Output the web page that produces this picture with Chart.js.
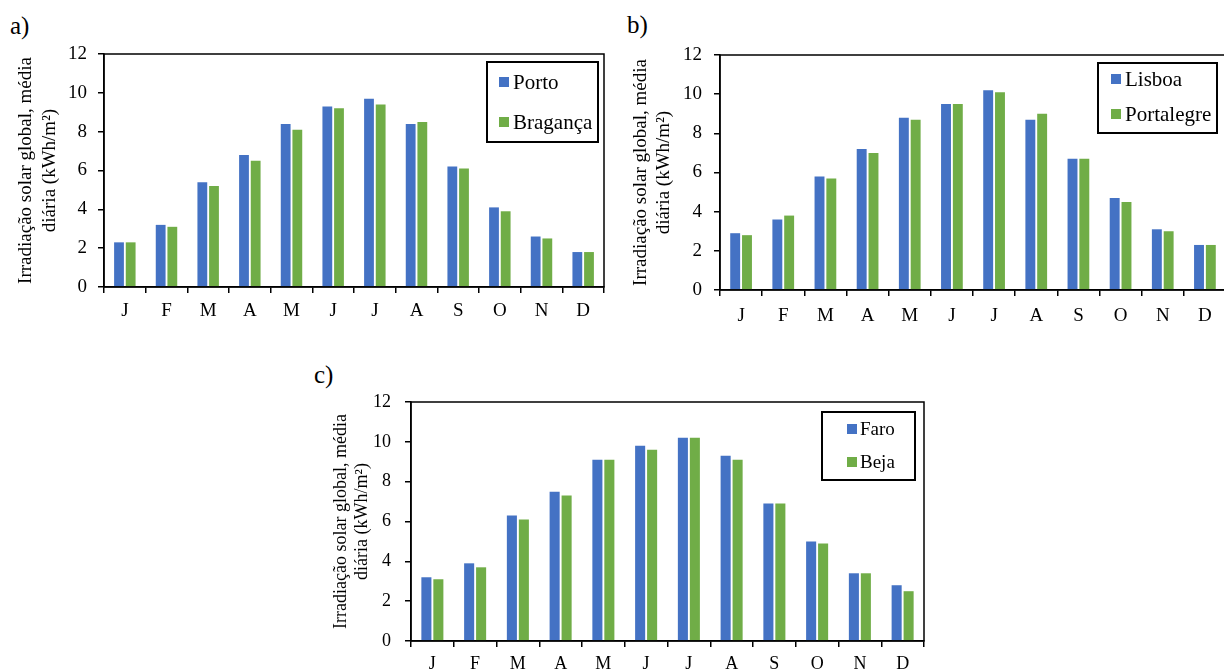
<!DOCTYPE html>
<html>
<head>
<meta charset="utf-8">
<script src="https://cdn.jsdelivr.net/npm/chart.js@4.4.1/dist/chart.umd.min.js"></script>
<style>
  body { margin: 0; width: 1224px; height: 670px; overflow: hidden; background: #fff; position: relative; font-family: 'Liberation Serif', serif; }
  canvas { position: absolute; }
  .tag { position: absolute; font-size: 25px; color: #000; line-height: 1; }
</style>
</head>
<body>
<div class="tag" style="left:10px;top:13px">a)</div>
<div class="tag" style="left:627px;top:12px">b)</div>
<div class="tag" style="left:314px;top:362px">c)</div>
<canvas id="chartA" width="612" height="330" style="left:0;top:0"></canvas>
<canvas id="chartB" width="620" height="330" style="left:612px;top:0"></canvas>
<canvas id="chartC" width="640" height="330" style="left:300px;top:340px"></canvas>
<script>
// months and y ticks
const months = ['J', 'F', 'M', 'A', 'M', 'J', 'J', 'A', 'S', 'O', 'N', 'D'];
const yTicks = [0, 2, 4, 6, 8, 10, 12];
const yTitle = ['Irradiação solar global, média', 'diária (kWh/m²)'];

// a) north
const porto    = [2.3, 3.2, 5.4, 6.8, 8.4, 9.3, 9.7, 8.4, 6.2, 4.1, 2.6, 1.8];
const braganca = [2.3, 3.1, 5.2, 6.5, 8.1, 9.2, 9.4, 8.5, 6.1, 3.9, 2.5, 1.8];
// b) centre
const lisboa     = [2.9, 3.6, 5.8, 7.2, 8.8, 9.5, 10.2, 8.7, 6.7, 4.7, 3.1, 2.3];
const portalegre = [2.8, 3.8, 5.7, 7.0, 8.7, 9.5, 10.1, 9.0, 6.7, 4.5, 3.0, 2.3];
// c) south
const faro = [3.2, 3.9, 6.3, 7.5, 9.1, 9.8, 10.2, 9.3, 6.9, 5.0, 3.4, 2.8];
const beja = [3.1, 3.7, 6.1, 7.3, 9.1, 9.6, 10.2, 9.1, 6.9, 4.9, 3.4, 2.5];

const BLUE = '#4472C4';
const GREEN = '#70AD47';
const FONT = 'Liberation Serif';

// frame round the plot + boxed legend inside it
const frameAndLegend = {
    id: 'frameAndLegend',
    afterDraw(chart, args, opts) {
        const { ctx, chartArea: a } = chart;
        ctx.save();
        ctx.strokeStyle = '#000';
        ctx.lineWidth = 1.5;
        ctx.strokeRect(a.left, a.top, a.right - a.left, a.bottom - a.top);

        const b = opts.box;
        ctx.fillStyle = '#fff';
        ctx.fillRect(b.x, b.y, b.w, b.h);
        ctx.lineWidth = 2;
        ctx.strokeRect(b.x, b.y, b.w, b.h);
        ctx.font = opts.fontSize + 'px "' + FONT + '"';
        ctx.textBaseline = 'middle';
        chart.data.datasets.forEach((ds, i) => {
            const y = b.rows[i];
            ctx.fillStyle = ds.backgroundColor;
            ctx.fillRect(b.markX, y - 5, 10, 10);
            ctx.fillStyle = '#000';
            ctx.fillText(ds.label, b.textX, y + 1);
        });
        ctx.restore();
    }
};

function makeChart(id, s1, n1, s2, n2, cfg) {
    return new Chart(document.getElementById(id), {
        type: 'bar',
        data: {
            labels: months,
            datasets: [
                { label: n1, data: s1, backgroundColor: BLUE },
                { label: n2, data: s2, backgroundColor: GREEN }
            ]
        },
        options: {
            responsive: false,
            animation: false,
            devicePixelRatio: 1,
            categoryPercentage: 0.56,
            barPercentage: 0.84,
            layout: { padding: { top: cfg.top, right: cfg.right, left: 0, bottom: 0 } },
            scales: {
                x: {
                    grid: { drawOnChartArea: false, tickLength: 6, color: '#000', lineWidth: 1.5, offset: true },
                    border: { color: '#000', width: 1.5 },
                    ticks: { color: '#000', font: { family: FONT, size: cfg.tickSize }, padding: cfg.xPad, maxRotation: 0, autoSkip: false },
                    afterFit: s => { s.height = cfg.xHeight; }
                },
                y: {
                    min: 0,
                    max: 12,
                    afterBuildTicks: s => { s.ticks = yTicks.map(v => ({ value: v })); },
                    grid: { drawOnChartArea: false, tickLength: 6, color: '#000', lineWidth: 1.5 },
                    border: { color: '#000', width: 1.5 },
                    ticks: { color: '#000', font: { family: FONT, size: cfg.tickSize }, padding: cfg.yPad },
                    title: {
                        display: true,
                        text: yTitle,
                        color: '#000',
                        font: { family: FONT, size: cfg.titleSize, lineHeight: cfg.titleLine + 'px' },
                        padding: { top: cfg.titlePad, bottom: 0 }
                    },
                    afterFit: s => { s.width = cfg.yWidth; }
                }
            },
            plugins: {
                legend: { display: false },
                tooltip: { enabled: false },
                frameAndLegend: { box: cfg.legend, fontSize: cfg.legendSize }
            }
        },
        plugins: [frameAndLegend]
    });
}

makeChart('chartA', porto, 'Porto', braganca, 'Bragança', {
    top: 54, right: 8, yWidth: 104, xHeight: 43,
    tickSize: 19, xPad: 7, yPad: 11,
    titleSize: 19, titleLine: 24, titlePad: 14,
    legendSize: 21,
    legend: { x: 487, y: 62, w: 111, h: 80, rows: [82, 122], markX: 499, textX: 513 }
});

makeChart('chartB', lisboa, 'Lisboa', portalegre, 'Portalegre', {
    top: 55, right: 6, yWidth: 108, xHeight: 40,
    tickSize: 19, xPad: 9, yPad: 12,
    titleSize: 19, titleLine: 23, titlePad: 18,
    legendSize: 21,
    legend: { x: 486, y: 63, w: 119, h: 70, rows: [79, 114], markX: 499, textX: 513 }
});

makeChart('chartC', faro, 'Faro', beja, 'Beja', {
    top: 62, right: 16, yWidth: 111, xHeight: 29,
    tickSize: 18, xPad: 6, yPad: 14,
    titleSize: 18, titleLine: 21, titlePad: 31,
    legendSize: 19,
    legend: { x: 522, y: 72, w: 93, h: 68, rows: [89, 122], markX: 547, textX: 560 }
});
</script>
</body>
</html>
